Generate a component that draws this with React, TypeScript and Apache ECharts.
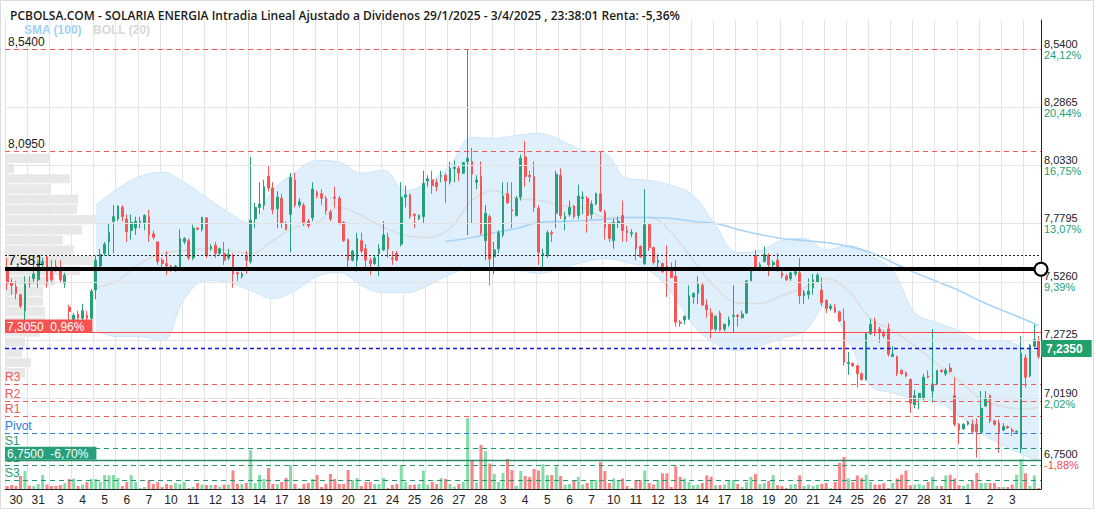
import React, { useEffect, useRef } from 'react';
import * as echarts from 'echarts';

const TITLE = 'PCBOLSA.COM - SOLARIA ENERGIA Intradia Lineal Ajustado a Dividenos 29/1/2025 - 3/4/2025 , 23:38:01 Renta: -5,36%';

const days = ['30','31','3','4','5','6','7','10','11','12','13','14','17','18','19','20','21','24','25','26','27','28','3','4','5','6','7','10','11','12','13','14','17','18','19','20','21','24','25','26','27','28','31','1','2','3'];
const CANDLES_PER_DAY = 5;

const opens = [
7.58,7.525,7.505,7.47,7.40,7.525,7.54,7.535,7.60,7.635,
7.575,7.595,7.59,7.52,7.415,7.36,7.385,7.367,7.38,7.367,
7.49,7.595,7.65,7.70,7.79,7.80,7.85,7.80,7.75,7.76,
7.785,7.785,7.81,7.735,7.70,7.62,7.605,7.595,7.58,7.585,
7.70,7.705,7.63,7.76,7.755,7.805,7.67,7.685,7.65,7.65,
7.63,7.64,7.565,7.55,7.64,7.615,7.80,7.85,7.86,7.985,
7.935,7.845,7.89,7.78,7.82,7.97,7.86,7.86,7.79,7.805,
7.915,7.91,7.89,7.83,7.895,7.89,7.785,7.71,7.62,7.62,
7.705,7.67,7.62,7.605,7.65,7.665,7.72,7.63,7.65,7.69,
7.895,7.905,7.82,7.80,7.81,7.965,7.97,7.96,7.985,7.99,
7.96,8.02,8.02,8.00,8.05,8.05,7.96,7.985,7.705,7.81,
7.635,7.67,7.73,7.91,7.84,7.815,7.895,8.07,7.99,7.985,
7.845,7.64,7.64,7.74,7.825,7.99,7.80,7.82,7.855,7.815,
7.89,7.89,7.82,7.865,7.91,7.83,7.78,7.705,7.78,7.815,
7.75,7.735,7.74,7.68,7.605,7.775,7.675,7.61,7.605,7.595,
7.585,7.55,7.35,7.36,7.365,7.46,7.475,7.51,7.425,7.39,
7.32,7.39,7.32,7.34,7.375,7.38,7.37,7.39,7.53,7.64,
7.58,7.615,7.64,7.60,7.62,7.565,7.55,7.54,7.56,7.565,
7.465,7.47,7.50,7.525,7.49,7.445,7.41,7.415,7.395,7.355,
7.17,7.17,7.16,7.125,7.10,7.30,7.355,7.32,7.30,7.32,
7.20,7.20,7.14,7.13,7.10,6.99,7.02,7.02,7.115,7.05,
7.08,7.14,7.125,7.15,7.03,6.905,6.885,6.905,6.905,6.905,
6.87,6.985,7.03,6.92,6.91,6.88,6.895,6.88,6.87,6.80,
7.195,7.115,7.245,7.27];

const closes = [
7.52,7.51,7.475,7.42,7.515,7.52,7.56,7.605,7.615,7.52,
7.535,7.585,7.535,7.555,7.397,7.38,7.367,7.40,7.367,7.485,
7.62,7.645,7.69,7.74,7.81,7.855,7.81,7.745,7.785,7.79,
7.79,7.815,7.73,7.72,7.615,7.605,7.595,7.585,7.595,7.715,
7.715,7.63,7.76,7.755,7.805,7.64,7.68,7.65,7.67,7.62,
7.645,7.56,7.56,7.56,7.62,7.795,7.85,7.865,7.94,7.935,
7.84,7.895,7.78,7.755,7.98,7.86,7.875,7.785,7.77,7.93,
7.90,7.89,7.835,7.80,7.89,7.78,7.705,7.62,7.66,7.715,
7.66,7.62,7.605,7.63,7.67,7.73,7.67,7.625,7.62,7.895,
7.905,7.81,7.815,7.815,7.955,7.975,7.945,7.94,7.99,7.965,
8.02,8.025,8.00,8.045,8.065,7.995,7.97,7.74,7.825,7.625,
7.665,7.74,7.90,7.87,7.835,7.89,8.065,7.985,7.985,7.85,
7.655,7.65,7.74,7.735,7.995,7.815,7.81,7.85,7.81,7.90,
7.895,7.815,7.865,7.91,7.835,7.76,7.715,7.785,7.79,7.75,
7.74,7.74,7.67,7.635,7.775,7.675,7.61,7.62,7.57,7.575,
7.545,7.35,7.345,7.375,7.465,7.475,7.515,7.425,7.405,7.32,
7.375,7.315,7.34,7.36,7.38,7.375,7.385,7.53,7.575,7.58,
7.60,7.645,7.60,7.61,7.585,7.55,7.535,7.565,7.57,7.465,
7.48,7.485,7.535,7.555,7.435,7.41,7.42,7.395,7.355,7.175,
7.175,7.16,7.125,7.10,7.30,7.34,7.305,7.305,7.29,7.21,
7.21,7.125,7.125,7.115,6.998,7.03,7.04,7.11,7.11,7.08,
7.14,7.135,7.14,7.135,6.905,6.88,6.905,6.915,6.872,6.872,
6.975,7.02,6.92,6.905,6.87,6.895,6.89,6.875,6.875,7.215,
7.11,7.25,7.275,7.20];

const lows = [
7.49,7.47,7.45,7.41,7.33,7.50,7.52,7.50,7.58,7.50,
7.52,7.57,7.52,7.50,7.35,7.34,7.36,7.36,7.36,7.36,
7.45,7.58,7.64,7.64,7.65,7.79,7.79,7.70,7.71,7.73,
7.76,7.75,7.70,7.71,7.60,7.59,7.555,7.57,7.57,7.58,
7.69,7.62,7.62,7.75,7.745,7.63,7.66,7.63,7.64,7.60,
7.62,7.50,7.53,7.54,7.56,7.605,7.76,7.82,7.84,7.92,
7.82,7.76,7.76,7.75,7.655,7.85,7.85,7.77,7.76,7.79,
7.89,7.86,7.82,7.79,7.85,7.775,7.70,7.58,7.615,7.57,
7.65,7.58,7.555,7.60,7.55,7.66,7.63,7.60,7.615,7.68,
7.85,7.80,7.76,7.795,7.78,7.94,7.91,7.92,7.96,7.87,
7.95,7.96,7.965,7.995,7.73,7.78,7.93,7.73,7.62,7.51,
7.56,7.65,7.72,7.865,7.76,7.81,7.88,7.94,7.96,7.83,
7.60,7.58,7.63,7.70,7.76,7.80,7.75,7.81,7.80,7.80,
7.82,7.74,7.80,7.86,7.83,7.71,7.70,7.67,7.76,7.70,
7.70,7.72,7.62,7.63,7.60,7.66,7.60,7.58,7.565,7.46,
7.545,7.33,7.33,7.34,7.36,7.43,7.43,7.42,7.37,7.28,
7.31,7.31,7.31,7.33,7.305,7.33,7.365,7.385,7.53,7.575,
7.575,7.61,7.55,7.59,7.57,7.54,7.53,7.53,7.55,7.43,
7.43,7.45,7.47,7.52,7.42,7.39,7.40,7.39,7.35,7.16,
7.12,7.155,7.065,7.095,7.095,7.295,7.29,7.26,7.28,7.20,
7.20,7.115,7.12,7.11,6.955,6.975,6.97,7.01,7.105,7.00,
7.075,7.13,7.115,7.13,6.895,6.82,6.88,6.90,6.865,6.76,
6.865,6.98,6.91,6.90,6.78,6.875,6.885,6.855,6.87,6.78,
7.065,7.11,7.24,7.19];

const highs = [
7.63,7.54,7.53,7.47,7.55,7.55,7.62,7.62,7.63,7.64,
7.62,7.62,7.62,7.565,7.426,7.39,7.40,7.43,7.40,7.495,
7.64,7.67,7.70,7.78,7.86,7.86,7.86,7.82,7.82,7.81,
7.81,7.82,7.84,7.75,7.70,7.63,7.66,7.60,7.60,7.755,
7.72,7.715,7.775,7.765,7.81,7.805,7.69,7.70,7.675,7.70,
7.67,7.65,7.57,7.57,7.66,8.07,7.87,7.96,7.97,8.03,
7.96,7.92,7.91,7.79,8.00,8.00,7.89,7.87,7.80,7.96,
7.925,7.93,7.90,7.84,7.94,7.90,7.79,7.715,7.665,7.74,
7.74,7.69,7.63,7.64,7.69,7.79,7.74,7.66,7.66,7.96,
7.945,7.91,7.825,7.82,8.01,7.99,8.01,7.975,8.01,8.00,
8.05,8.055,8.035,8.05,8.54,8.11,7.99,8.05,7.86,7.82,
7.70,7.75,7.96,7.96,7.96,7.90,8.08,8.14,8.01,8.05,
7.86,7.67,7.75,7.75,8.01,8.02,7.83,7.88,7.86,7.95,
7.92,7.90,7.88,7.915,8.095,7.84,7.785,7.80,7.81,7.88,
7.77,7.755,7.74,7.685,7.93,7.78,7.68,7.645,7.61,7.685,
7.61,7.62,7.36,7.38,7.51,7.48,7.55,7.52,7.45,7.41,
7.38,7.40,7.345,7.375,7.51,7.385,7.40,7.535,7.585,7.665,
7.61,7.68,7.65,7.62,7.65,7.58,7.56,7.57,7.58,7.63,
7.49,7.54,7.56,7.565,7.545,7.45,7.43,7.43,7.40,7.41,
7.22,7.175,7.165,7.13,7.305,7.365,7.37,7.33,7.315,7.345,
7.245,7.205,7.145,7.135,7.105,7.055,7.04,7.125,7.14,7.32,
7.14,7.145,7.15,7.17,7.11,6.91,6.91,6.92,6.925,6.93,
7.05,7.05,7.035,6.925,6.925,6.91,6.90,6.89,6.878,7.29,
7.21,7.255,7.34,7.29];

// volume, thousands of shares
const volumes = [
30,40,30,130,180,34,30,50,140,45,
30,30,40,60,100,105,30,45,70,100,
100,70,140,136,140,110,30,70,140,70,
10,20,90,50,70,20,50,40,60,50,
70,10,20,60,45,40,40,40,23,45,
45,185,50,50,60,390,60,140,100,210,
50,50,70,110,240,50,10,50,60,100,
140,20,50,150,100,50,50,190,90,110,
30,70,70,50,50,110,10,40,50,240,
70,40,45,50,185,45,70,50,110,100,
50,25,50,70,710,280,65,440,380,255,
150,70,160,300,190,30,180,130,120,200,
185,248,140,140,227,130,45,50,90,122,
45,60,90,90,270,180,60,105,90,105,
30,10,90,90,185,60,45,90,157,157,
20,227,122,105,70,38,45,60,136,122,
38,38,45,90,90,50,20,70,122,150,
50,60,80,140,38,30,10,45,50,136,
30,45,30,45,50,60,10,70,260,320,
105,70,136,108,143,70,45,45,60,10,
60,105,143,185,38,45,50,38,70,122,
30,30,136,143,105,38,30,50,80,160,
60,60,60,60,20,20,20,45,143,300,
157,30,136,10];

// Bollinger (20) read at every 5th candle
const bandIdx = [20,25,30,35,40,45,50,55,60,65,70,75,80,85,90,95,100,105,110,115,120,125,130,135,140,145,150,155,160,165,170,175,180,185,190,195,200,205,210,215,220,225,230,233];
const bollUpper = [7.859,7.933,7.985,8.003,7.959,7.894,7.828,7.78,7.924,8.003,8.055,8.047,7.999,8.012,7.924,7.959,8.033,8.156,8.151,8.164,8.173,8.143,8.099,8.086,7.977,7.968,7.946,7.902,7.771,7.654,7.662,7.706,7.715,7.665,7.684,7.64,7.575,7.392,7.348,7.313,7.269,7.269,7.234,7.217];
const bollMid = [7.501,7.531,7.606,7.649,7.662,7.671,7.662,7.649,7.706,7.763,7.785,7.85,7.815,7.763,7.728,7.719,7.758,7.881,7.924,7.889,7.881,7.859,7.85,7.806,7.806,7.806,7.741,7.619,7.501,7.435,7.431,7.466,7.50,7.54,7.488,7.365,7.313,7.247,7.169,7.095,7.016,6.981,6.972,6.977];
const bollLower = [7.313,7.287,7.287,7.269,7.45,7.531,7.523,7.488,7.453,7.488,7.549,7.566,7.509,7.479,7.479,7.509,7.558,7.584,7.575,7.575,7.562,7.584,7.61,7.627,7.61,7.575,7.479,7.335,7.256,7.226,7.247,7.28,7.31,7.42,7.27,7.073,7.042,7.016,7.003,6.942,6.868,6.811,6.767,6.745];

// SMA (100)
const smaIdx = [99,105,110,115,120,125,130,135,140,145,150,155,160,165,170,175,180,185,190,195,200,205,210,215,220,225,230,233];
const sma100 = [7.702,7.719,7.741,7.758,7.785,7.789,7.793,7.798,7.806,7.806,7.802,7.789,7.78,7.754,7.732,7.715,7.706,7.697,7.68,7.654,7.61,7.566,7.527,7.488,7.44,7.40,7.361,7.335];

// volume-by-price profile (bucket boundaries, volume per bucket)
const profileLevels = [8.086,8.042,7.997,7.953,7.908,7.864,7.819,7.775,7.730,7.686,7.641,7.597,7.552,7.508,7.463,7.419,7.374,7.330,7.285,7.241,7.196,7.152,7.107];
const profileVolume = [440,90,650,460,730,720,1030,770,580,690,900,750,500,380,380,400,400,350,200,170,260,200];

// right axis ticks
const axisTicks = [8.54,8.2865,8.033,7.7795,7.526,7.2725,7.019,6.75];
const axisTickLabels = ['8,5400','8,2865','8,0330','7,7795','7,5260','7,2725','7,0190','6,7500'];
const axisTickPct = ['24,12%','20,44%','16,75%','13,07%','9,39%','5,70%','2,02%','-1,88%'];

// reference levels
const periodHigh = 8.54;
const secondHigh = 8.095;
const dottedLevel = 7.643;
const trendLevel = 7.581;
const refLevel = 7.305;
const refLabel = '7,3050  0,96%';
const lastPrice = 7.235;
const periodLow = 6.75;
const lowLabel = '6,7500  -6,70%';
const pivotNames = ['R3','R2','R1','Pivot','S1','S2','S3'];
const pivotValues = [7.0815,7.007,6.942,6.868,6.802,6.728,6.662];

const FONT = '"Liberation Sans", Arial, sans-serif';
const UP = '#26a17b';
const DOWN = '#f65656';
const UP_VOL = '#82dca8';
const DOWN_VOL = '#f98686';
const RED = '#f25a5a';
const GREEN = '#1f9a6f';
const BLUE = '#2a7de1';

const fmt = (v: number, d: number) => v.toFixed(d).replace('.', ',');

export default function App() {
  const ref = useRef<HTMLDivElement>(null);
  useEffect(() => {
    if (!ref.current) return;
    const chart = echarts.init(ref.current, undefined, { renderer: 'svg' });
    const n = opens.length;
    const nLabeled = days.length * CANDLES_PER_DAY;
    const cats = Array.from({ length: n }, (_, i) => days[Math.floor(i / CANDLES_PER_DAY)] ?? '');
    const candleData = opens.map((o, i) => [o, closes[i], lows[i], highs[i]]);
    const volData = volumes.map((v, i) => ({ value: v, itemStyle: { color: closes[i] >= opens[i] ? UP_VOL : DOWN_VOL } }));
    const pair = (idx: number[], vals: number[]) => idx.map((k, i) => [k, vals[i]]);
    const bandDiff = bandIdx.map((k, i) => [k, +(bollUpper[i] - bollLower[i]).toFixed(4)]);
    const profileData = profileVolume.map((v, i) => [profileLevels[i], profileLevels[i + 1], v]);

    const tickLines = axisTicks.map((v, i) => ({
      yAxis: v,
      lineStyle: { color: '#e4e4e4', type: 'solid', width: 1 },
      label: {
        show: true,
        position: 'end',
        distance: 3,
        formatter: `{v|${axisTickLabels[i]}}\n{p|${axisTickPct[i]}}`,
        rich: {
          v: { color: '#222', fontSize: 11, lineHeight: 11, fontFamily: FONT },
          p: { color: axisTickPct[i].startsWith('-') ? '#f04848' : '#27a072', fontSize: 11, lineHeight: 11, fontFamily: FONT },
        },
      },
    }));

    const leftLabel = (text: string, color: string, size = 12, dist: number[] = [3, 1]) => ({
      show: true, position: 'insideStartTop', distance: dist, formatter: text, color, fontSize: size, fontFamily: FONT,
    });

    const pivotLines = pivotNames.map((name, i) => {
      const c = name.startsWith('R') ? RED : name === 'Pivot' ? BLUE : GREEN;
      return {
        yAxis: pivotValues[i],
        lineStyle: { color: c, type: [5, 4], width: 1 },
        label: leftLabel(name, c, 12, [0, 1]),
      };
    });

    const levelLines: any[] = [
      { yAxis: periodHigh, lineStyle: { color: RED, type: [5, 4], width: 1 }, label: leftLabel(fmt(periodHigh, 4), '#222', 12, [3, 1]) },
      { yAxis: secondHigh, lineStyle: { color: RED, type: [5, 4], width: 1 }, label: leftLabel(fmt(secondHigh, 4), '#222', 12, [3, 1]) },
      { yAxis: dottedLevel, lineStyle: { color: '#222', type: [2, 2], width: 1 }, label: { show: false } },
      ...pivotLines,
      { yAxis: refLevel, lineStyle: { color: '#f44', type: 'solid', width: 1 },
        label: { show: true, position: 'insideStartTop', distance: [0, 0], formatter: refLabel,
          color: '#fff', backgroundColor: '#f55252', padding: [1, 8, 0, 2], fontSize: 12, fontFamily: FONT } },
      { yAxis: lastPrice, lineStyle: { color: '#1515e8', type: [4, 3], width: 1.3 },
        label: { show: true, position: 'end', distance: 0, formatter: fmt(lastPrice, 4), color: '#fff', backgroundColor: '#22a06b',
          padding: [3, 9, 2, 5], fontSize: 12, fontWeight: 'bold', fontFamily: FONT } },
      { yAxis: periodLow, lineStyle: { color: '#2a8a66', type: 'solid', width: 1.3 },
        label: { show: true, position: 'insideStartTop', distance: [0, 0], formatter: lowLabel,
          color: '#fff', backgroundColor: '#26a07a', padding: [1, 8, 0, 2], fontSize: 12, fontFamily: FONT } },
    ];

    const hidden = { show: false, axisLine: { show: false, onZero: false }, axisTick: { show: false }, axisLabel: { show: false }, splitLine: { show: false } };

    const option: any = {
      animation: false,
      backgroundColor: '#fff',
      title: {
        text: TITLE, left: 5, top: 3,
        textStyle: { fontFamily: '"Open Sans", sans-serif', fontSize: 12, fontWeight: 600, color: '#1a1a1a', lineHeight: 14 },
      },
      graphic: [
        { type: 'rect', silent: true, z: -10, shape: { x: 0.5, y: 0.5, width: 1093, height: 508 }, style: { fill: 'none', stroke: '#dcdcdc', lineWidth: 1 } },
        { type: 'text', left: 24, top: 24, style: { text: 'SMA (100)', fill: '#9fd2f6', font: `bold 12px ${FONT}` } },
        { type: 'text', left: 93, top: 24, style: { text: 'BOLL (20)', fill: '#d8d8d8', font: `bold 12px ${FONT}` } },
      ],
      grid: [
        { left: 5, right: 55, top: 20, bottom: 23 },
        { left: 5, right: 55, top: 409, height: 80 },
      ],
      xAxis: [
        {
          type: 'category', gridIndex: 0, data: cats, boundaryGap: true,
          axisLine: { show: true, onZero: false, lineStyle: { color: '#222', width: 1 } },
          axisTick: { show: false },
          axisLabel: { interval: (i: number) => i % CANDLES_PER_DAY === 2 && i < nLabeled, color: '#222', fontSize: 12, fontFamily: FONT, margin: 5 },
          splitLine: { show: true, interval: (i: number) => i % CANDLES_PER_DAY === 0, lineStyle: { color: '#e4e4e4', width: 1 } },
        },
        { type: 'value', gridIndex: 0, position: 'top', min: 0, max: 10360, ...hidden },
        { type: 'category', gridIndex: 1, data: cats, boundaryGap: true, ...hidden },
      ],
      yAxis: [
        {
          type: 'value', gridIndex: 0, position: 'right', min: 6.623, max: 8.667,
          axisLine: { show: true, onZero: false, lineStyle: { color: '#222', width: 1 } },
          axisTick: { show: false }, axisLabel: { show: false }, splitLine: { show: false },
        },
        { type: 'value', gridIndex: 1, min: 0, max: 800, position: 'right', ...hidden },
      ],
      series: [
        {
          name: 'grid', type: 'line', xAxisIndex: 0, yAxisIndex: 0, data: [], z: 0, silent: true,
          markLine: { silent: true, symbol: ['none', 'none'], precision: 4, data: tickLines },
        },
        {
          name: 'profile', type: 'custom', xAxisIndex: 1, yAxisIndex: 0, z: 1, silent: true,
          data: profileData,
          encode: { x: 2, y: [0, 1] },
          renderItem: (params: any, api: any) => {
            const a = api.coord([0, api.value(0)]);
            const b = api.coord([api.value(2), api.value(1)]);
            return { type: 'rect', shape: { x: a[0], y: a[1] + 0.5, width: b[0] - a[0], height: b[1] - a[1] - 1 }, style: { fill: '#e8e8e8' } };
          },
        },
        {
          name: 'BOLL lower', type: 'line', xAxisIndex: 0, yAxisIndex: 0, stack: 'boll', z: 2, silent: true,
          data: pair(bandIdx, bollLower), smooth: 0.4, symbol: 'none',
          lineStyle: { color: '#cde5f7', width: 1 },
        },
        {
          name: 'BOLL band', type: 'line', xAxisIndex: 0, yAxisIndex: 0, stack: 'boll', z: 2, silent: true,
          data: bandDiff, smooth: 0.4, symbol: 'none',
          lineStyle: { color: '#cde5f7', width: 1 },
          areaStyle: { color: '#dfeffc', opacity: 1 },
        },
        {
          name: 'BOLL (20)', type: 'line', xAxisIndex: 0, yAxisIndex: 0, z: 3, silent: true,
          data: pair(bandIdx, bollMid), smooth: 0.4, symbol: 'none',
          lineStyle: { color: '#dcdcdc', width: 1.5 },
        },
        {
          name: 'SMA (100)', type: 'line', xAxisIndex: 0, yAxisIndex: 0, z: 3, silent: true,
          data: pair(smaIdx, sma100), smooth: 0.4, symbol: 'none',
          lineStyle: { color: '#a6d4f7', width: 1.6 },
        },
        {
          name: 'Volumen', type: 'bar', xAxisIndex: 2, yAxisIndex: 1, z: 3, silent: true,
          data: volData, barWidth: 3,
        },
        {
          name: 'SOLARIA', type: 'candlestick', xAxisIndex: 0, yAxisIndex: 0, z: 4, silent: true,
          data: candleData, barMaxWidth: 3,
          itemStyle: { color: UP, color0: DOWN, borderColor: UP, borderColor0: DOWN, borderWidth: 1 },
        },
        {
          name: 'levels', type: 'line', xAxisIndex: 0, yAxisIndex: 0, data: [], z: 5, silent: true,
          markLine: { silent: true, symbol: ['none', 'none'], precision: 4, data: levelLines },
        },
        {
          name: 'trend', type: 'line', xAxisIndex: 0, yAxisIndex: 0, data: [], z: 6, silent: true,
          markLine: {
            silent: true, symbol: ['none', 'emptyCircle'], symbolSize: 13, precision: 3,
            data: [{ yAxis: trendLevel, lineStyle: { color: '#000', type: 'solid', width: 4 }, label: leftLabel(fmt(trendLevel, 3), '#111', 14, [3, 2]) }],
          },
        },
      ],
    };
    chart.setOption(option);
    return () => chart.dispose();
  }, []);

  return <div ref={ref} style={{ position: 'fixed', left: 0, top: 0, width: 1096, height: 512 }} />;
}
